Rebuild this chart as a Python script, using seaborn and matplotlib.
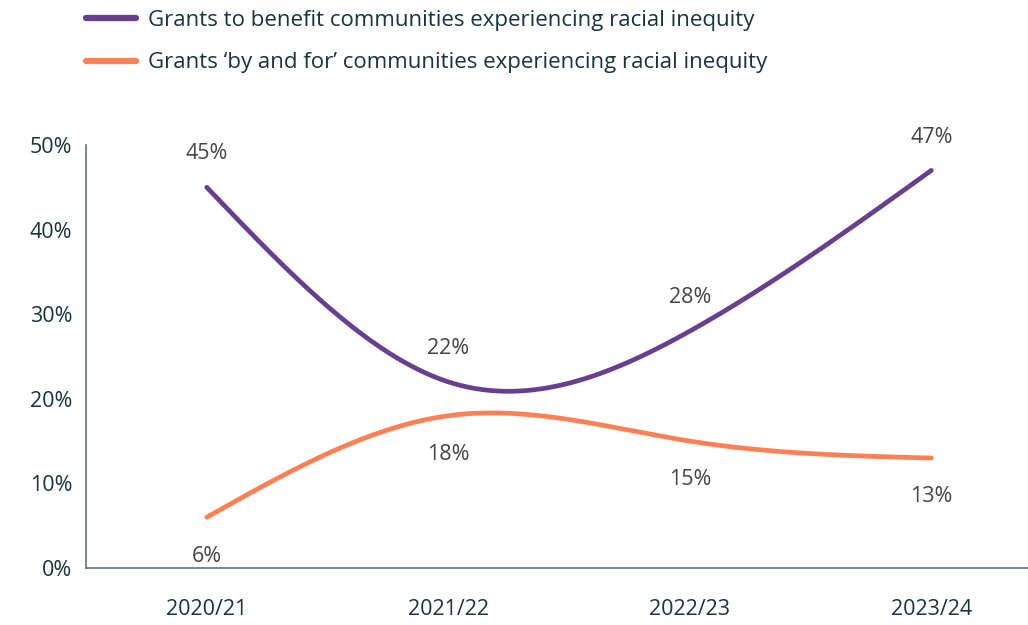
import numpy as np
import pandas as pd
import matplotlib
matplotlib.use("Agg")
import matplotlib.pyplot as plt
import seaborn as sns

years = ["2020/21", "2021/22", "2022/23", "2023/24"]
benefit = [45, 22, 28, 47]
by_and_for = [6, 18, 15, 13]
series_names = ["Grants to benefit communities experiencing racial inequity",
                "Grants \u2018by and for\u2019 communities experiencing racial inequity"]
colors = ["#683f8e", "#ff7f55"]
yticks = [0, 10, 20, 30, 40, 50]

sns.set_theme(style="white")
plt.rcParams['font.family'] = ['Open Sans', 'DejaVu Sans']

TEXT = "#17343f"
SPINE = "#5f7480"


def natural_spline(y, n=200):
    y = np.asarray(y, float)
    k = len(y)
    A = np.zeros((k, k)); b = np.zeros(k)
    A[0, 0] = 1; A[-1, -1] = 1
    for i in range(1, k - 1):
        A[i, i - 1] = 1; A[i, i] = 4; A[i, i + 1] = 1
        b[i] = 6 * (y[i - 1] - 2 * y[i] + y[i + 1])
    M = np.linalg.solve(A, b)
    xs = np.linspace(0, k - 1, n)
    ys = []
    for x in xs:
        i = min(int(np.floor(x)), k - 2)
        t = x - i
        a = 1 - t
        v = a * y[i] + t * y[i + 1] + ((a**3 - a) * M[i] + (t**3 - t) * M[i + 1]) / 6
        ys.append(v)
    return xs, np.array(ys)

frames = []
for name, vals in zip(series_names, [benefit, by_and_for]):
    xs, ys = natural_spline(vals)
    frames.append(pd.DataFrame({"x": xs, "y": ys, "series": name}))
df = pd.concat(frames)

fig = plt.figure(figsize=(10.28, 6.25), dpi=100)
ax = fig.add_axes([86/1028, 1 - 568/625, 1 - 86/1028, (568 - 145)/625])

sns.lineplot(data=df, x="x", y="y", hue="series", palette=colors,
             linewidth=3.4, ax=ax, legend=True, solid_capstyle="round")

ax.set_xlim(-0.5, 3.4)
ax.set_ylim(0, 50)
ax.set_xticks(range(len(years)))
ax.set_xticklabels(years)
ax.set_yticks(yticks)
ax.set_yticklabels([f"{t}%" for t in yticks])
ax.set_xlabel(""); ax.set_ylabel("")
ax.tick_params(axis="both", length=0, labelsize=15.5, colors=TEXT)
ax.tick_params(axis="x", pad=22)
ax.tick_params(axis="y", pad=10)
for s in ["top", "right"]:
    ax.spines[s].set_visible(False)
for s in ["left", "bottom"]:
    ax.spines[s].set_color(SPINE)
    ax.spines[s].set_linewidth(1.2)

for i, v in enumerate(benefit):
    ax.annotate(f"{v}%", (i, v), xytext=(0, 24), textcoords="offset points",
                ha="center", va="center", fontsize=15.5, color="#444444")
for i, v in enumerate(by_and_for):
    ax.annotate(f"{v}%", (i, v), xytext=(0, -28), textcoords="offset points",
                ha="center", va="center", fontsize=15.5, color="#444444")

leg = ax.legend(loc="upper left", bbox_to_anchor=(73/1028, 1.006), bbox_transform=fig.transFigure,
                frameon=False, fontsize=16, handlelength=2.25, handletextpad=0.54,
                labelspacing=0.98, borderaxespad=0.2)
for t in leg.get_texts():
    t.set_color(TEXT)
for h in leg.get_lines():
    h.set_linewidth(4.5)
    h.set_solid_capstyle("round")

fig.savefig("out.png", dpi=100)
